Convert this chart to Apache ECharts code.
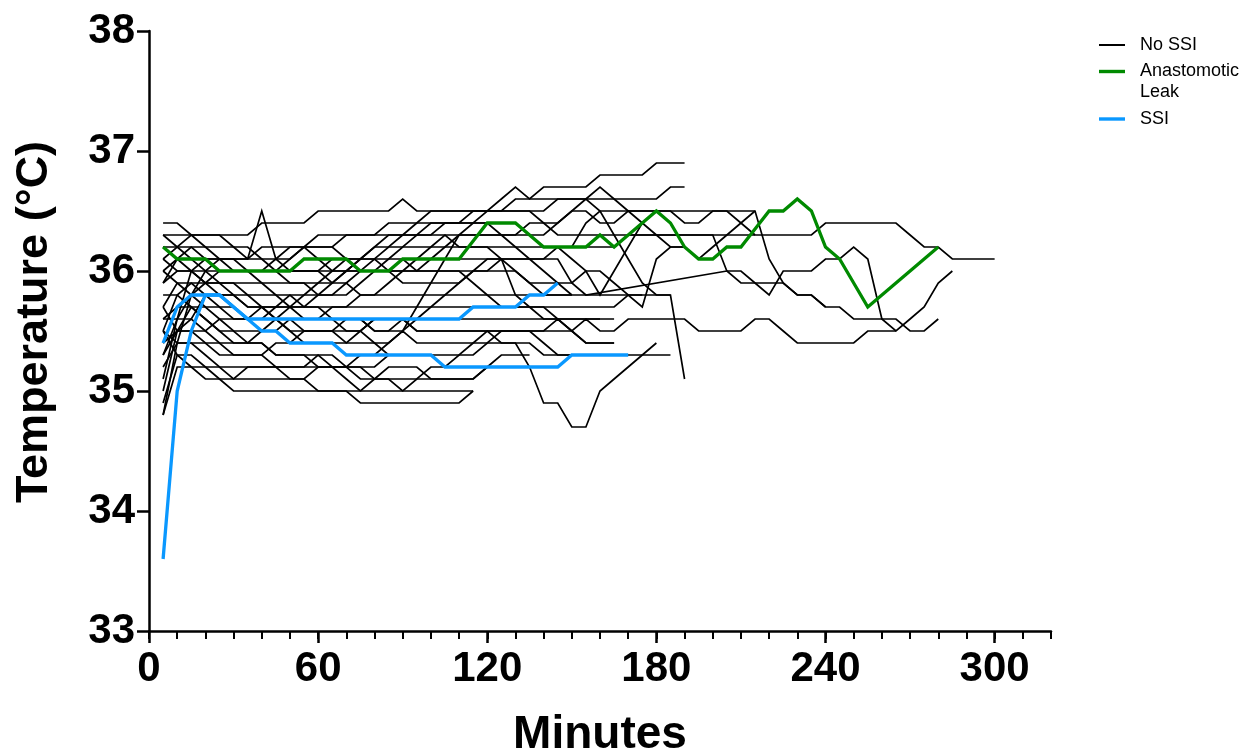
<!DOCTYPE html>
<html><head><meta charset="utf-8">
<script src="https://cdn.jsdelivr.net/npm/echarts@6/dist/echarts.min.js"></script>
<style>html,body{margin:0;padding:0;background:#fff}#c{width:1250px;height:754px}</style>
</head><body><div id="c"></div>
<script>
// Temperature readings (°C) every 5 minutes, first reading at 5 min
const START_MIN = 5, STEP_MIN = 5;
const xTickLabels = [0, 60, 120, 180, 240, 300];
const yTickLabels = [33, 34, 35, 36, 37, 38];

const noSSI01 = [36.3,36.3,36.3,36.3,36.3,36.3,36.3,36.4,36.4,36.4,36.4,36.5,36.5,36.5,36.5,36.5,36.5,36.6,36.5,36.5,36.5,36.5,36.5,36.5,36.6,36.7,36.6,36.7,36.7,36.7,36.7,36.8,36.8,36.8,36.8,36.9,36.9,36.9];
const noSSI02 = [36.4,36.4,36.3,36.2,36.1,36.0,36.0,36.0,36.0,36.1,36.2,36.3,36.3,36.3,36.3,36.3,36.4,36.4,36.4,36.4,36.4,36.4,36.4,36.5,36.5,36.6,36.6,36.6,36.6,36.6,36.6,36.6,36.6,36.6,36.6,36.6,36.7,36.7];
const noSSI03 = [36.3,36.2,36.1,36.1,36.1,36.1,36.1,36.5,36.1,36.0,36.0,36.0,35.9,35.9,35.8,35.8,35.9,36.0,36.1,36.2,36.3,36.3,36.3,36.3,36.3,36.3,36.4,36.4,36.4,36.5,36.5,36.4,36.4,36.5,36.5,36.5];
const noSSI04 = [36.1,36.2,36.2,36.1,36.0,36.0,36.0,36.0,36.1,36.2,36.2,36.2,36.2,36.1,36.0,36.0,36.1,36.2,36.2,36.2,36.2,36.2,36.2,36.2,36.2,36.2,36.2,36.2,36.2,36.2,36.2,36.2,36.2,36.3,36.3,36.3,36.3,36.3,36.3,36.3,36.0,35.9,35.9,35.9,35.9,35.8,35.8,35.7];
const noSSI05 = [36.0,36.1,36.2,36.2,36.2,36.2,36.2,36.1,36.0,35.9,35.9,35.9,35.9,36.0,36.1,36.2,36.2,36.3,36.4,36.5,36.5,36.5,36.5,36.5,36.5,36.5,36.5,36.4,36.3,36.3,36.3,36.3,36.3,36.3,36.3,36.3,36.3,36.3,36.3,36.3,36.3,36.3,36.3,36.3,36.3,36.3,36.3,36.4,36.4,36.4,36.4,36.4,36.4,36.3,36.2,36.2,36.1,36.1,36.1,36.1];
const noSSI06 = [35.9,36.0,36.0,36.0,35.9,35.9,35.9,35.9,35.9,35.9,35.9,35.8,35.8,35.8,35.9,36.0,36.0,36.0,36.0,36.0,36.0,36.0,36.0,36.0,36.1,36.1,36.1,36.1,36.2,36.2,36.4,36.5,36.5,36.5,36.5,36.5,36.5,36.5,36.5,36.5,36.5,36.5,36.5,36.1,35.9,35.8,35.8,35.7,35.7,35.6,35.6,35.6,35.6,35.5,35.5,35.6];
const noSSI07 = [35.7,35.9,35.9,35.8,35.7,35.7,35.6,35.6,35.6,35.5,35.5,35.5,35.5,35.6,35.6,35.5,35.5,35.6,35.5,35.5,35.5,35.5,35.5,35.5,35.5,35.5,35.5,35.5,35.5,35.5,35.6,35.5,35.5,35.6,35.6,35.6,35.6,35.6,35.5,35.5,35.5,35.5,35.6,35.6,35.5,35.4,35.4,35.4,35.4,35.4,35.5,35.5,35.5];
const noSSI08 = [35.5,35.8,35.9,35.9,35.9,35.8,35.8,35.8,35.8,35.8,35.7,35.7,35.7,35.7,35.8,35.8,35.8,35.8,35.8,35.8,35.8,35.8,35.8,35.8,35.8,35.8,35.8,35.8,35.8,35.8,35.8,35.8,35.8,35.8,35.8,35.8,35.8,35.1];
const noSSI09 = [35.3,35.6,35.8,35.9,36.0,36.0,36.0,36.0,36.0,36.0,36.0,36.0,36.0,36.0,36.0,36.0,36.0,36.1,36.1,36.1,36.1,36.1,36.1,36.1,36.1,36.1,36.1,36.1,36.1,35.9,35.8,null,null,null,null,null,null,null,null,null,36.0,36.0,35.9,35.8,36.0,36.0,36.0,36.1,36.1,36.2,36.1,35.6,35.5,35.6,35.7,35.9,36.0];
const noSSI10 = [35.0,35.5,35.7,35.6,35.5,35.5,35.4,35.4,35.3,35.3,35.3,35.3,35.2,35.2,35.2,35.1,35.1,35.1,35.1,35.2,35.2,35.3,35.3,35.4,35.4,35.4,35.2,34.9,34.9,34.7,34.7,35.0,35.1,35.2,35.3,35.4];
const noSSI11 = [34.9,35.3,35.3,35.2,35.1,35.0,35.0,35.0,35.0,35.0,35.0,35.0,35.0,35.0,34.9,34.9,34.9,34.9,34.9,34.9,34.9,34.9,35.0];
const noSSI12 = [34.8,35.2,35.2,35.2,35.2,35.1,35.1,35.1,35.1,35.1,35.1,35.2,35.2,35.1,35.0,35.0,35.0,35.0,35.1,35.1,35.1,35.1,35.1,35.2,35.2,35.2];
const noSSI13 = [35.2,35.4,35.4,35.3,35.2,35.2,35.2,35.2,35.2,35.2,35.2,35.3,35.3,35.2,35.2,35.2,35.3,35.3,35.3,35.3,35.3,35.3,35.4,35.5,35.5,35.5,35.5,35.4,35.3,35.3,35.3,35.3,35.3,35.3,35.3,35.3,35.3];
const noSSI14 = [35.5,35.4,35.4,35.4,35.3,35.3,35.3,35.3,35.4,35.4,35.5,35.5,35.5,35.4,35.4,35.4,35.4,35.5,35.4,35.4,35.4,35.4,35.4,35.4,35.5,35.5,35.5,35.5,35.6,35.5,35.4,35.4,35.4];
const noSSI15 = [35.6,35.7,35.7,35.7,35.6,35.5,35.5,35.5,35.5,35.6,35.6,35.6,35.7,35.7,35.7,35.7,35.7,35.7,35.7,35.7,35.7,35.7,35.7,35.7,35.7,35.7,35.7,35.7,35.7,35.7,35.7,35.7,35.7,35.8,35.7,36.1,36.2,36.2,36.1,36.2,36.3,36.4,36.5];
const noSSI16 = [36.0,35.9,35.8,35.7,35.7,35.6,35.6,35.6,35.7,35.8,35.8,35.8,35.8,35.9,36.0,36.0,36.0,35.9,35.9,35.9,35.9,35.9,36.0,36.0,36.0,36.0,35.9,35.9,35.9,35.9,36.0,35.8,36.0,36.2,36.4,36.5,36.5,36.4,36.4,36.5,36.5,36.4,36.3];
const noSSI17 = [36.1,36.0,36.0,35.9,35.8,35.8,35.7,35.7,35.7,35.7,35.7,35.7,35.6,35.6,35.6,35.5,35.5,35.5,35.6,35.7,35.8,35.9,36.0,36.1,36.1,36.0,35.9,35.8,35.8,35.8];
const noSSI18 = [35.8,35.8,35.7,35.6,35.5,35.4,35.4,35.4,35.3,35.3,35.3,35.2,35.2,35.2,35.3,35.3,35.4,35.5,35.7,35.9,36.1,36.3,36.3,36.3,36.3,36.3,36.3,36.3,36.4,36.5,36.6,36.7,36.6,36.5,36.4,36.3,36.2,36.2];
const noSSI19 = [35.6,35.6,35.6,35.5,35.4,35.4,35.4,35.5,35.6,35.7,35.7,35.8,35.9,36.0,36.1,36.2,36.3,36.3,36.3,36.3,36.3,36.2,36.2,36.2,36.1,35.8,35.7,35.6,35.6,35.6,35.6,35.6];
const noSSI20 = [34.8,35.4,35.8,36.0,36.1,36.1,36.1,36.2,36.2,36.2,36.2,36.1,36.0,36.0,36.0,36.1,36.1,36.1,36.0,36.0,36.0,36.0,35.9,35.8,35.7,35.7,35.7,35.7,35.6,35.5,35.4,35.4,35.4];
const noSSI21 = [35.1,35.6,36.0,36.1,36.1,36.1,36.0,35.9,35.8,35.7,35.6,35.6,35.6,35.5,35.5,35.4,35.3,35.3,35.3,35.3,35.2,35.2,35.2,35.2,35.2,35.2];
const noSSI22 = [35.4,35.5,35.5,35.5,35.6,35.6,35.6,35.7,35.7,35.7,35.8,35.9,36.0,36.1,36.1,36.1,36.2,36.2,36.3,36.3,36.4,36.4,36.4,36.4,36.3,36.2,36.1,36.0,35.9,35.8];
const noSSI23 = [36.2,36.1,36.0,35.9,35.9,35.9,35.8,35.7,35.6,35.6,35.5,35.5,35.5,35.5,35.5,35.6,35.6,35.6,35.6,35.6,35.6,35.6,35.6,35.6,35.6,35.6,35.6,35.6,35.6,35.6,35.6,35.6,35.6];
const noSSI24 = [35.9,36.1,36.1,36.0,36.0,36.0,36.0,36.0,36.0,36.0,36.0,36.0,36.1,36.1,36.1,36.1,36.0,36.0,36.0,36.1,36.2,36.3,36.4,36.4,36.4,36.4,36.3,36.2,36.2,36.1,36.0,36.0,35.9,35.8,35.8];
const noSSI25 = [35.3,35.5,35.6,35.8,35.8,35.8,35.7,35.7,35.6,35.5,35.4,35.4,35.4,35.4,35.5,35.6,35.6,35.6,35.5,35.5,35.5,35.5,35.5,35.5,35.4,35.4,35.4,35.3,35.3,35.3];
const noSSI26 = [35.5,35.3,35.2,35.1,35.1,35.1,35.2,35.2,35.2,35.1,35.1,35.0,35.0,35.0,35.0,35.1,35.2,35.2,35.2,35.1,35.1,35.1,35.1,35.2,35.3,35.3,35.3];
const noSSI27 = [36.2,36.2,36.3,36.3,36.3,36.2,36.1,36.1,36.1,36.1,36.2,36.2,36.2,36.3,36.3,36.3,36.3,36.3,36.3,36.4,36.4,36.4,36.5,36.5,36.5,36.5,36.5,36.5,36.6,36.6,36.6,36.5,36.3,36.1,35.9,35.8,35.8];
const noSSI28 = [35.7,35.5,35.5,35.4,35.4,35.3,35.3,35.3,35.2,35.2,35.2,35.2,35.2,35.2,35.1,35.1,35.1,35.0,35.0,35.0,35.0,35.0,35.0];

const anastomoticLeak = [36.2,36.1,36.1,36.1,36.0,36.0,36.0,36.0,36.0,36.0,36.1,36.1,36.1,36.1,36.0,36.0,36.0,36.1,36.1,36.1,36.1,36.1,36.25,36.4,36.4,36.4,36.3,36.2,36.2,36.2,36.2,36.3,36.2,36.3,36.4,36.5,36.4,36.2,36.1,36.1,36.2,36.2,36.35,36.5,36.5,36.6,36.5,36.2,36.1,35.9,35.7,35.8,35.9,36.0,36.1,36.2];

const ssiA = [33.6,35.0,35.5,35.8,35.8,35.7,35.6,35.5,35.5,35.4,35.4,35.4,35.4,35.3,35.3,35.3,35.3,35.3,35.3,35.3,35.2,35.2,35.2,35.2,35.2,35.2,35.2,35.2,35.2,35.3,35.3,35.3,35.3,35.3];
const ssiB = [35.4,35.7,35.8,35.8,35.8,35.7,35.6,35.6,35.6,35.6,35.6,35.6,35.6,35.6,35.6,35.6,35.6,35.6,35.6,35.6,35.6,35.6,35.7,35.7,35.7,35.7,35.8,35.8,35.9];

const noSSIGroup = [noSSI01,noSSI02,noSSI03,noSSI04,noSSI05,noSSI06,noSSI07,noSSI08,noSSI09,noSSI10,noSSI11,noSSI12,noSSI13,noSSI14,noSSI15,noSSI16,noSSI17,noSSI18,noSSI19,noSSI20,noSSI21,noSSI22,noSSI23,noSSI24,noSSI25,noSSI26,noSSI27,noSSI28];
const leakGroup = [anastomoticLeak];
const ssiGroup = [ssiA, ssiB];

function toPoints(vals) {
  const out = [];
  vals.forEach((v, i) => { if (v !== null) out.push([START_MIN + STEP_MIN * i, v]); });
  return out;
}

const FONT = "'Liberation Sans', Arial, Helvetica, sans-serif";
const BLACK = '#000000', GREEN = '#008a00', BLUE = '#0a98ff';

const series = [];
function addGroup(group, name, color, width) {
  group.forEach(vals => series.push({
    name, type: 'line', xAxisIndex: 0, yAxisIndex: 0,
    data: toPoints(vals), symbol: 'none', showSymbol: false, silent: true,
    lineStyle: { color, width, join: 'miter' }, itemStyle: { color },
    emphasis: { disabled: true }
  }));
}
addGroup(noSSIGroup, 'No SSI', BLACK, 1.7);
addGroup(ssiGroup, 'SSI', BLUE, 3.3);
addGroup(leakGroup, 'Anastomotic Leak', GREEN, 3.3);

const legendText = { fontSize: 18, lineHeight: 21, fontFamily: FONT, color: '#000', padding: [0, 0, 0, 10] };
const chart = echarts.init(document.getElementById('c'), null, { renderer: 'canvas' });
chart.setOption({
  animation: false,
  backgroundColor: '#fff',
  legend: [
    { data: ['No SSI'], left: 1099, top: 34.5, padding: 0, orient: 'vertical', icon: 'rect',
      itemWidth: 26, itemHeight: 2, selectedMode: false, textStyle: legendText },
    { data: ['Anastomotic Leak'], left: 1099, top: 40, padding: 0, orient: 'vertical', icon: 'rect',
      itemWidth: 26, itemHeight: 3.4, selectedMode: false, formatter: () => '\nAnastomotic\nLeak', textStyle: legendText },
    { data: ['SSI'], left: 1099, top: 108.5, padding: 0, orient: 'vertical', icon: 'rect',
      itemWidth: 26, itemHeight: 3.4, selectedMode: false, textStyle: legendText }
  ],
  grid: [
    { left: 149, top: 31, width: 902, height: 600, outerBoundsMode: 'none', containLabel: false },
    { left: 149, top: 31, width: 902 * 300 / 320, height: 600, outerBoundsMode: 'none', containLabel: false }
  ],
  xAxis: [
    { gridIndex: 0, type: 'value', min: 0, max: 320, interval: 10,
      axisLine: { show: true, lineStyle: { color: '#000', width: 2.5 } },
      axisTick: { show: true, length: 8, lineStyle: { color: '#000', width: 2 } },
      axisLabel: { show: false }, splitLine: { show: false },
      name: 'Minutes', nameLocation: 'middle', nameGap: 81,
      nameTextStyle: { fontSize: 46, fontWeight: 'bold', color: '#000', fontFamily: FONT } },
    { gridIndex: 1, type: 'value', min: xTickLabels[0], max: xTickLabels[xTickLabels.length - 1], interval: 60,
      axisLine: { show: false },
      axisTick: { show: true, length: 12, lineStyle: { color: '#000', width: 2.5 } },
      axisLabel: { show: true, fontSize: 42, fontWeight: 'bold', color: '#000', margin: 17, fontFamily: FONT },
      splitLine: { show: false } }
  ],
  yAxis: [
    { gridIndex: 0, type: 'value', min: yTickLabels[0], max: yTickLabels[yTickLabels.length - 1], interval: 1,
      axisLine: { show: true, lineStyle: { color: '#000', width: 2.5 } },
      axisTick: { show: true, length: 12, lineStyle: { color: '#000', width: 2.5 } },
      axisLabel: { show: true, fontSize: 42, fontWeight: 'bold', color: '#000', margin: 14, fontFamily: FONT },
      splitLine: { show: false },
      name: 'Temperature (°C)', nameLocation: 'middle', nameGap: 92, nameRotate: 90,
      nameTextStyle: { fontSize: 45, fontWeight: 'bold', color: '#000', fontFamily: FONT, padding: [0, 0, 0, 18] } },
    { gridIndex: 1, type: 'value', min: 33, max: 38, show: false }
  ],
  series
});
</script></body></html>
